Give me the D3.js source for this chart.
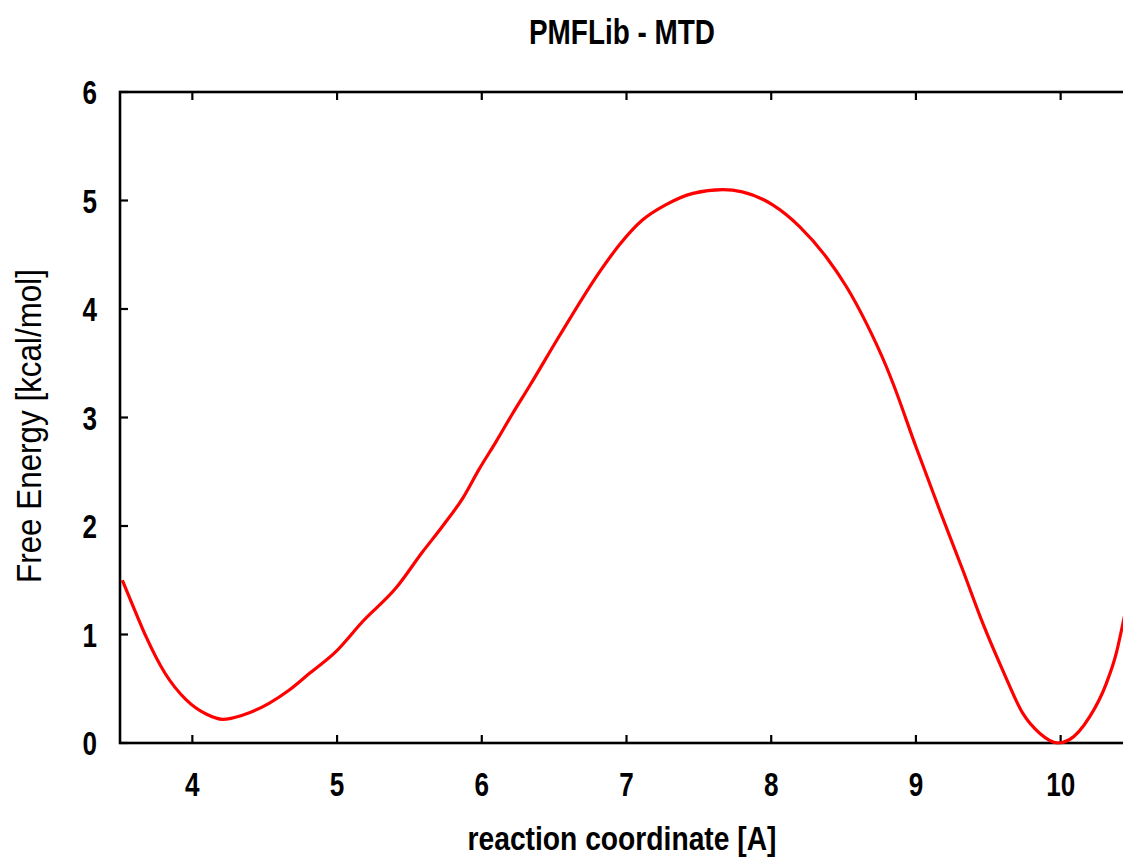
<!DOCTYPE html>
<html>
<head>
<meta charset="utf-8">
<script src="https://cdn.jsdelivr.net/npm/d3@7"></script>
<style>
  html, body { margin: 0; padding: 0; background: #fff; overflow: hidden; }
  svg { display: block; }
  .lbl { font-family: "Liberation Sans Narrow", "Arial Narrow", "Liberation Sans", sans-serif; fill: #000; }
</style>
</head>
<body>
<div id="chart"></div>
<script>
const coord = [3.516, 3.60, 3.68, 3.81, 3.956, 4.095, 4.21, 4.35, 4.53, 4.67, 4.81, 4.99, 5.177,
  5.408, 5.59, 5.73, 5.87, 5.98, 6.10, 6.21, 6.33, 6.54, 6.813, 6.95, 7.11, 7.27, 7.46,
  7.666, 7.80, 8.01, 8.196, 8.38, 8.52, 8.657, 8.795, 8.84, 9.0, 9.163, 9.325, 9.463, 9.60,
  9.74, 9.855, 9.98, 10.06, 10.20, 10.316, 10.385, 10.43, 10.48];
const energy = [1.50, 1.23, 0.98, 0.645, 0.40, 0.267, 0.218, 0.258, 0.366, 0.488, 0.642, 0.84, 1.12,
  1.43, 1.76, 2.0, 2.26, 2.52, 2.78, 3.03, 3.29, 3.76, 4.34, 4.59, 4.82, 4.96, 5.066,
  5.10, 5.08, 4.96, 4.76, 4.48, 4.205, 3.87, 3.47, 3.32, 2.73, 2.15, 1.59, 1.10, 0.67,
  0.27, 0.09, 0.0, 0.03, 0.24, 0.55, 0.83, 1.10, 1.42];
const xTicks = [4, 5, 6, 7, 8, 9, 10];
const yTicks = [0, 1, 2, 3, 4, 5, 6];

const W = 1123, H = 863;
const margin = { left: 120, top: 92, right: -10, bottom: 120 };

const svg = d3.select('#chart').append('svg')
  .attr('width', W)
  .attr('height', H);

const x = d3.scaleLinear().domain([3.5, 10.5]).range([margin.left, W - margin.right]);
const y = d3.scaleLinear().domain([0, 6]).range([743, margin.top]);

const data = coord.map((c, i) => ({ x: c, y: energy[i] }));

// frame
svg.append('rect')
  .attr('x', x(3.5)).attr('y', y(6))
  .attr('width', x(10.5) - x(3.5)).attr('height', y(0) - y(6))
  .attr('fill', 'none').attr('stroke', '#000').attr('stroke-width', 2.6);

// ticks (inward, mirrored on top)
const tk = 8;
const g = svg.append('g');
g.selectAll('.xt').data(xTicks).enter().append('line')
  .attr('x1', d => x(d)).attr('x2', d => x(d))
  .attr('y1', y(0)).attr('y2', y(0) - tk)
  .attr('stroke', '#000').attr('stroke-width', 2.2);
g.selectAll('.xt2').data(xTicks).enter().append('line')
  .attr('x1', d => x(d)).attr('x2', d => x(d))
  .attr('y1', y(6)).attr('y2', y(6) + tk)
  .attr('stroke', '#000').attr('stroke-width', 2.2);
g.selectAll('.yt').data(yTicks).enter().append('line')
  .attr('x1', x(3.5)).attr('x2', x(3.5) + tk)
  .attr('y1', d => y(d)).attr('y2', d => y(d))
  .attr('stroke', '#000').attr('stroke-width', 2.2);

// tick labels, squeezed to the narrow face of the original
g.selectAll('.xl').data(xTicks).enter().append('text')
  .attr('class', 'lbl')
  .attr('x', d => x(d)).attr('y', 796)
  .attr('text-anchor', 'middle')
  .attr('font-size', 33).attr('font-weight', 'bold')
  .attr('textLength', d => String(d).length * 14.5)
  .attr('lengthAdjust', 'spacingAndGlyphs')
  .text(d => d);
g.selectAll('.yl').data(yTicks).enter().append('text')
  .attr('class', 'lbl')
  .attr('x', 97).attr('y', d => y(d) + 12)
  .attr('text-anchor', 'end')
  .attr('font-size', 33).attr('font-weight', 'bold')
  .attr('textLength', 14.5)
  .attr('lengthAdjust', 'spacingAndGlyphs')
  .text(d => d);

// curve
svg.append('path')
  .datum(data)
  .attr('fill', 'none')
  .attr('stroke', '#ff0000')
  .attr('stroke-width', 3.2)
  .attr('d', d3.line().x(d => x(d.x)).y(d => y(d.y)).curve(d3.curveMonotoneX));

// titles
svg.append('text').attr('class', 'lbl')
  .attr('x', 622).attr('y', 44)
  .attr('text-anchor', 'middle')
  .attr('font-size', 35).attr('font-weight', 'bold')
  .attr('textLength', 186).attr('lengthAdjust', 'spacingAndGlyphs')
  .text('PMFLib - MTD');

svg.append('text').attr('class', 'lbl')
  .attr('x', 622).attr('y', 850)
  .attr('text-anchor', 'middle')
  .attr('font-size', 34).attr('font-weight', 'bold')
  .attr('textLength', 309).attr('lengthAdjust', 'spacingAndGlyphs')
  .text('reaction coordinate [A]');

svg.append('text').attr('class', 'lbl')
  .attr('transform', 'translate(41,426) rotate(-90)')
  .attr('text-anchor', 'middle')
  .attr('font-size', 35)
  .attr('textLength', 314).attr('lengthAdjust', 'spacingAndGlyphs')
  .text('Free Energy [kcal/mol]');
</script>
</body>
</html>
